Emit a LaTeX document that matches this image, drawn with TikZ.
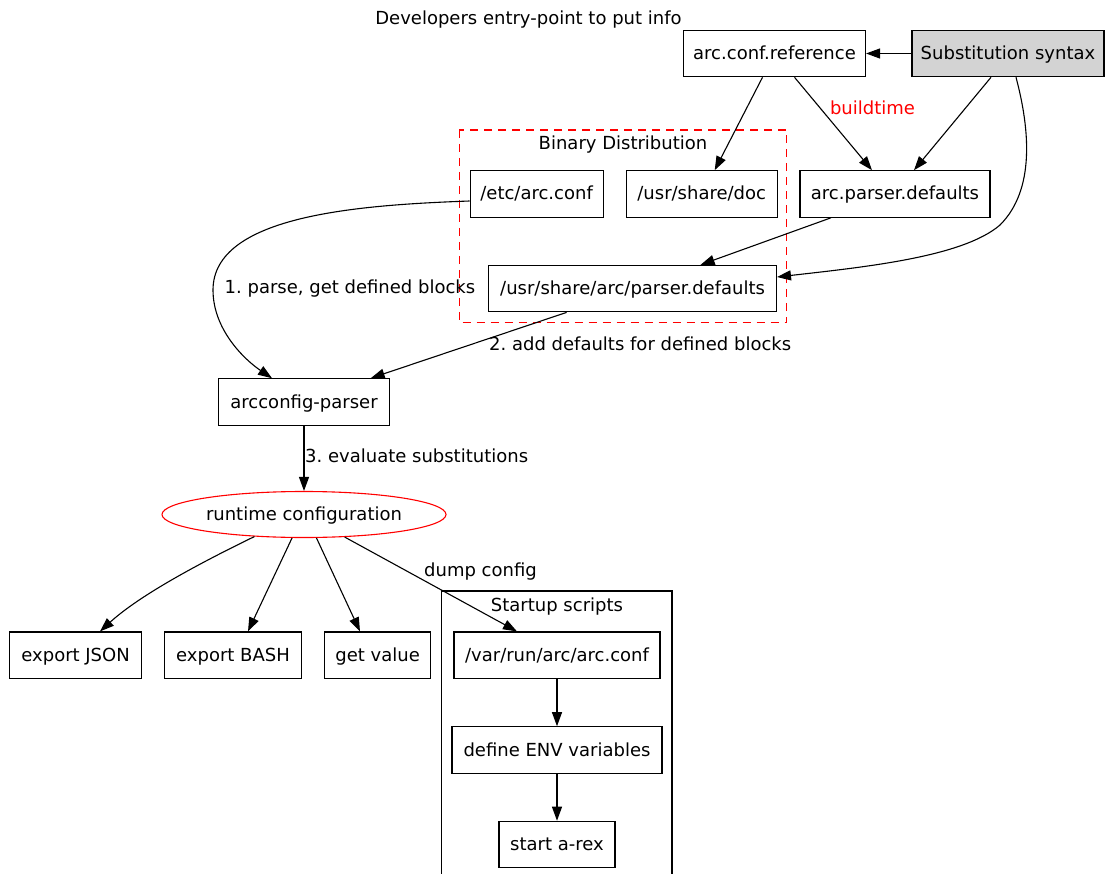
\documentclass[tikz,border=0pt]{standalone}
\usepackage{fontspec}
\setmainfont{DejaVu Sans}
\usetikzlibrary{arrows.meta,shapes.geometric}
\definecolor{gvgray}{HTML}{D3D3D3}
\definecolor{gvred}{HTML}{FF0000}
\frenchspacing
\begin{document}
\begin{tikzpicture}[x=1pt,y=-1pt,
  every node/.style={font=\fontsize{18}{21}\selectfont,inner sep=0pt,text height=12pt,text depth=0pt},
  box/.style={draw,line width=1.1pt,minimum height=46.5pt},
  arr/.style={line width=1.1pt,-{Triangle[length=14pt,width=10pt]}},
  cluster/.style={line width=1.1pt},
  lbl/.style={}]
\useasboundingbox (0,0) rectangle (1105,874);

% clusters
\draw[cluster,gvred,dash pattern=on 8pt off 6pt] (459.2,130) rectangle (786.7,322.7);
\node[lbl] (bdlabel) at (623,144) {Binary Distribution};
\draw[cluster] (441.6,874) -- (441.6,591) -- (672,591) -- (672,874);
\node[lbl] (sslabel) at (557,605) {Startup scripts};

% nodes
\node[lbl] (devlabel) at (528.5,19) {Developers entry-point to put info};
\node[box,minimum width=182pt] (acr) at (774.5,53.5) {arc.conf.reference};
\node[box,fill=gvgray,minimum width=192pt] (sub) at (1008,53.5) {Substitution syntax};
\node[box,minimum width=133pt] (etc) at (536.6,194) {/etc/arc.conf};
\node[box,minimum width=151pt] (doc) at (701.7,194) {/usr/share/doc};
\node[box,minimum width=190pt] (apd) at (895,194) {arc.parser.defaults};
\node[box,minimum width=287.7pt] (usa) at (632.6,288.6) {/usr/share/arc/parser.defaults};
\node[box,minimum width=170.4pt] (acp) at (304,402) {arcconfig-parser};
\node[draw=gvred,line width=1.1pt,ellipse,minimum width=284pt,minimum height=46pt] (rt) at (304,514.5) {runtime configuration};
\node[box,minimum width=131.6pt] (json) at (75.6,655.2) {export JSON};
\node[box,minimum width=137pt] (bash) at (233,655.2) {export BASH};
\node[box,minimum width=105.6pt] (get) at (377.6,655.2) {get value};
\node[box,minimum width=206pt] (var) at (557,655.2) {/var/run/arc/arc.conf};
\node[box,minimum width=210pt] (env) at (557,750) {define ENV variables};
\node[box,minimum width=116pt] (arex) at (557,844.5) {start a-rex};

% edges
\draw[arr] (sub.west) -- (acr.east);
\draw[arr] ([xshift=-12pt]acr.south) -- ([xshift=13pt]doc.north);
\draw[arr] ([xshift=20pt]acr.south) -- ([xshift=-23pt]apd.north);
\node[lbl,text=gvred] (buildtime) at (872.5,109) {buildtime};
\draw[arr] ([xshift=-17pt]sub.south) -- ([xshift=19pt]apd.north);
\draw[arr] ([xshift=8pt]sub.south) .. controls (1030,130) and (1035,190) .. (1000,225)
  .. controls (963,257) and (865,267) .. ([yshift=11.6pt]usa.east);
\draw[arr] ([xshift=-64pt]apd.south) -- ([xshift=68pt]usa.north);
\draw[arr] ([yshift=-7pt]etc.west) .. controls (360,205) and (213,215) .. (213,290)
  .. controls (213,330) and (245,360) .. ([xshift=-32pt]acp.north);
\node[lbl] (l1) at (350,288) {1. parse, get defined blocks};
\draw[arr] ([xshift=-66pt]usa.south) -- ([xshift=66.7pt]acp.north);
\node[lbl,anchor=west] (l2) at (489,344) {2. add defaults for defined blocks};
\draw[arr] (acp.south) -- (rt.north);
\node[lbl,anchor=west] (l3) at (305,456.7) {3. evaluate substitutions};
\draw[arr] (rt.-156.2) .. controls (200,563) and (140,595) .. ([xshift=24.4pt]json.north);
\draw[arr] (rt.-117.7) -- ([xshift=15pt]bash.north);
\draw[arr] (rt.-62.3) -- ([xshift=-17.6pt]get.north);
\draw[arr] (rt.-29.2) -- ([xshift=-40pt]var.north);
\node[lbl] (dump) at (480.5,570) {dump config};
\draw[arr] (var.south) -- (env.north);
\draw[arr] (env.south) -- (arex.north);
\end{tikzpicture}
\end{document}
